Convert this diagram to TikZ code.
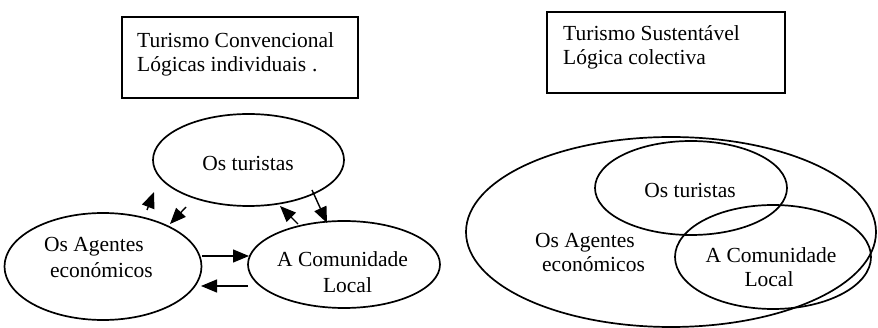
\documentclass[tikz,border=0pt]{standalone}
\usepackage{fontspec}
\setmainfont{Liberation Serif}
\usetikzlibrary{shapes.geometric,arrows.meta}
\begin{document}
\begin{tikzpicture}[x=1pt,y=-1pt,
  ell/.style={draw,ellipse,line width=1.7pt,inner sep=0pt},
  titlebox/.style={draw,rectangle,line width=1.7pt,inner sep=0pt},
  txt/.style={inner sep=0pt,font=\fontsize{21.5}{24}\selectfont},
  arr/.style={line width=1.4pt,-{Triangle[length=16pt,width=13pt]}}]
\useasboundingbox (0,0) rectangle (878,328);
% ---------- left: Turismo Convencional ----------
\node[titlebox,minimum width=236pt,minimum height=81pt] (lbox) at (240,57.5) {};
\node[txt,anchor=base west] (lt1) at (137,48) {Turismo Convencional};
\node[txt,anchor=base west] (lt2) at (137,72) {Lógicas individuais\hspace{6pt}.};
\node[ell,minimum width=191pt,minimum height=92pt] (ltur) at (248.5,160) {};
\node[ell,minimum width=197pt,minimum height=107pt] (lag) at (103,266.5) {};
\node[ell,minimum width=192pt,minimum height=87pt] (lcom) at (344,264.5) {};
\node[txt,anchor=base] (lturT) at (248,171) {Os turistas};
\node[txt,anchor=base] (lagT1) at (94,252) {Os Agentes};
\node[txt,anchor=base] (lagT2) at (101.5,278) {económicos};
\node[txt,anchor=base] (lcomT1) at (342.5,267) {A Comunidade};
\node[txt,anchor=base] (lcomT2) at (347.5,293) {Local};
\coordinate (a1s) at (147,210); \coordinate (a1e) at (154,192);
\coordinate (a2s) at (186,207); \coordinate (a2e) at (170,224);
\coordinate (a3s) at (298,224); \coordinate (a3e) at (280,206);
\coordinate (a4s) at (312,190); \coordinate (a4e) at (327,223);
\coordinate (a5s) at (202,256); \coordinate (a5e) at (249,256);
\coordinate (a6s) at (248,286); \coordinate (a6e) at (201,286);
\draw[arr] (a1s) -- (a1e);
\draw[arr] (a2s) -- (a2e);
\draw[arr] (a3s) -- (a3e);
\draw[arr] (a4s) -- (a4e);
\draw[arr] (a5s) -- (a5e);
\draw[arr] (a6s) -- (a6e);
% ---------- right: Turismo Sustentavel ----------
\node[titlebox,minimum width=238pt,minimum height=81pt] (rbox) at (666,52.5) {};
\node[txt,anchor=base west] (rt1) at (563,41) {Turismo Sustentável};
\node[txt,anchor=base west] (rt2) at (563,65) {Lógica colectiva};
\node[ell,minimum width=410pt,minimum height=190pt] (rag) at (671,232) {};
\node[ell,minimum width=192pt,minimum height=94pt] (rtur) at (691,188) {};
\node[ell,minimum width=196pt,minimum height=104pt] (rcom) at (773,257) {};
\node[txt,anchor=base] (rturT) at (690,198) {Os turistas};
\node[txt,anchor=base] (ragT1) at (585,248) {Os Agentes};
\node[txt,anchor=base] (ragT2) at (593.5,272) {económicos};
\node[txt,anchor=base] (rcomT1) at (771,263) {A Comunidade};
\node[txt,anchor=base] (rcomT2) at (769,287) {Local};
\end{tikzpicture}
\end{document}
